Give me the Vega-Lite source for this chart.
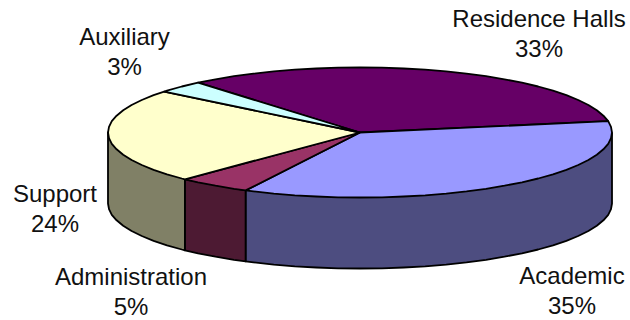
{"$schema":"https://vega.github.io/schema/vega-lite/v6.json","width":630,"height":320,"padding":0,"autosize":{"type":"fit","contains":"padding"},"background":"white","view":{"stroke":null},
"layer":[
{"data":{"values":[
{"slice":"Academic side","i":0,"x":612,"y":132.5},{"slice":"Academic side","i":1,"x":612,"y":203.5},{"slice":"Academic side","i":2,"x":611,"y":209.2},{"slice":"Academic side","i":3,"x":608.2,"y":214.8},{"slice":"Academic side","i":4,"x":603.4,"y":220.3},{"slice":"Academic side","i":5,"x":596.8,"y":225.7},{"slice":"Academic side","i":6,"x":588.4,"y":231},{"slice":"Academic side","i":7,"x":578.2,"y":236},{"slice":"Academic side","i":8,"x":566.4,"y":240.8},{"slice":"Academic side","i":9,"x":553,"y":245.3},{"slice":"Academic side","i":10,"x":538.2,"y":249.5},{"slice":"Academic side","i":11,"x":522,"y":253.3},{"slice":"Academic side","i":12,"x":504.5,"y":256.7},{"slice":"Academic side","i":13,"x":486,"y":259.8},{"slice":"Academic side","i":14,"x":466.5,"y":262.4},{"slice":"Academic side","i":15,"x":446.2,"y":264.6},{"slice":"Academic side","i":16,"x":425.2,"y":266.3},{"slice":"Academic side","i":17,"x":403.7,"y":267.5},{"slice":"Academic side","i":18,"x":382,"y":268.3},{"slice":"Academic side","i":19,"x":360,"y":268.5},{"slice":"Academic side","i":20,"x":338,"y":268.3},{"slice":"Academic side","i":21,"x":316.3,"y":267.5},{"slice":"Academic side","i":22,"x":294.8,"y":266.3},{"slice":"Academic side","i":23,"x":273.8,"y":264.6},{"slice":"Academic side","i":24,"x":253.5,"y":262.4},{"slice":"Academic side","i":25,"x":245.6,"y":261.4},{"slice":"Academic side","i":26,"x":245.6,"y":190.4},{"slice":"Academic side","i":27,"x":612,"y":132.5},
{"slice":"Administration side","i":0,"x":245.6,"y":190.4},{"slice":"Administration side","i":1,"x":245.6,"y":261.4},{"slice":"Administration side","i":2,"x":234,"y":259.8},{"slice":"Administration side","i":3,"x":215.5,"y":256.7},{"slice":"Administration side","i":4,"x":198,"y":253.3},{"slice":"Administration side","i":5,"x":184.9,"y":250.3},{"slice":"Administration side","i":6,"x":184.9,"y":179.3},{"slice":"Administration side","i":7,"x":245.6,"y":190.4},
{"slice":"Support side","i":0,"x":184.9,"y":179.3},{"slice":"Support side","i":1,"x":184.9,"y":250.3},{"slice":"Support side","i":2,"x":181.8,"y":249.5},{"slice":"Support side","i":3,"x":167,"y":245.3},{"slice":"Support side","i":4,"x":153.6,"y":240.8},{"slice":"Support side","i":5,"x":141.8,"y":236},{"slice":"Support side","i":6,"x":131.6,"y":231},{"slice":"Support side","i":7,"x":123.2,"y":225.7},{"slice":"Support side","i":8,"x":116.6,"y":220.3},{"slice":"Support side","i":9,"x":111.8,"y":214.8},{"slice":"Support side","i":10,"x":109,"y":209.2},{"slice":"Support side","i":11,"x":108,"y":203.5},{"slice":"Support side","i":12,"x":108,"y":132.5},{"slice":"Support side","i":13,"x":184.9,"y":179.3},
{"slice":"Residence Halls","i":0,"x":360,"y":132.5},{"slice":"Residence Halls","i":1,"x":198,"y":82.7},{"slice":"Residence Halls","i":2,"x":215.5,"y":79.3},{"slice":"Residence Halls","i":3,"x":234,"y":76.2},{"slice":"Residence Halls","i":4,"x":253.5,"y":73.6},{"slice":"Residence Halls","i":5,"x":273.8,"y":71.4},{"slice":"Residence Halls","i":6,"x":294.8,"y":69.7},{"slice":"Residence Halls","i":7,"x":316.3,"y":68.5},{"slice":"Residence Halls","i":8,"x":338,"y":67.7},{"slice":"Residence Halls","i":9,"x":360,"y":67.5},{"slice":"Residence Halls","i":10,"x":382,"y":67.7},{"slice":"Residence Halls","i":11,"x":403.7,"y":68.5},{"slice":"Residence Halls","i":12,"x":425.2,"y":69.7},{"slice":"Residence Halls","i":13,"x":446.2,"y":71.4},{"slice":"Residence Halls","i":14,"x":466.5,"y":73.6},{"slice":"Residence Halls","i":15,"x":486,"y":76.2},{"slice":"Residence Halls","i":16,"x":504.5,"y":79.3},{"slice":"Residence Halls","i":17,"x":522,"y":82.7},{"slice":"Residence Halls","i":18,"x":538.2,"y":86.5},{"slice":"Residence Halls","i":19,"x":553,"y":90.7},{"slice":"Residence Halls","i":20,"x":566.4,"y":95.2},{"slice":"Residence Halls","i":21,"x":578.2,"y":100},{"slice":"Residence Halls","i":22,"x":588.4,"y":105},{"slice":"Residence Halls","i":23,"x":596.8,"y":110.3},{"slice":"Residence Halls","i":24,"x":603.4,"y":115.7},{"slice":"Residence Halls","i":25,"x":608.2,"y":121.2},{"slice":"Residence Halls","i":26,"x":360,"y":132.5},
{"slice":"Academic","i":0,"x":360,"y":132.5},{"slice":"Academic","i":1,"x":608.2,"y":121.2},{"slice":"Academic","i":2,"x":611,"y":126.8},{"slice":"Academic","i":3,"x":612,"y":132.5},{"slice":"Academic","i":4,"x":611,"y":138.2},{"slice":"Academic","i":5,"x":608.2,"y":143.8},{"slice":"Academic","i":6,"x":603.4,"y":149.3},{"slice":"Academic","i":7,"x":596.8,"y":154.7},{"slice":"Academic","i":8,"x":588.4,"y":160},{"slice":"Academic","i":9,"x":578.2,"y":165},{"slice":"Academic","i":10,"x":566.4,"y":169.8},{"slice":"Academic","i":11,"x":553,"y":174.3},{"slice":"Academic","i":12,"x":538.2,"y":178.5},{"slice":"Academic","i":13,"x":522,"y":182.3},{"slice":"Academic","i":14,"x":504.5,"y":185.7},{"slice":"Academic","i":15,"x":486,"y":188.8},{"slice":"Academic","i":16,"x":466.5,"y":191.4},{"slice":"Academic","i":17,"x":446.2,"y":193.6},{"slice":"Academic","i":18,"x":425.2,"y":195.3},{"slice":"Academic","i":19,"x":403.7,"y":196.5},{"slice":"Academic","i":20,"x":382,"y":197.3},{"slice":"Academic","i":21,"x":360,"y":197.5},{"slice":"Academic","i":22,"x":338,"y":197.3},{"slice":"Academic","i":23,"x":316.3,"y":196.5},{"slice":"Academic","i":24,"x":294.8,"y":195.3},{"slice":"Academic","i":25,"x":273.8,"y":193.6},{"slice":"Academic","i":26,"x":253.5,"y":191.4},{"slice":"Academic","i":27,"x":245.6,"y":190.4},{"slice":"Academic","i":28,"x":360,"y":132.5},
{"slice":"Administration","i":0,"x":360,"y":132.5},{"slice":"Administration","i":1,"x":245.6,"y":190.4},{"slice":"Administration","i":2,"x":234,"y":188.8},{"slice":"Administration","i":3,"x":215.5,"y":185.7},{"slice":"Administration","i":4,"x":198,"y":182.3},{"slice":"Administration","i":5,"x":184.9,"y":179.3},{"slice":"Administration","i":6,"x":360,"y":132.5},
{"slice":"Support","i":0,"x":360,"y":132.5},{"slice":"Support","i":1,"x":184.9,"y":179.3},{"slice":"Support","i":2,"x":181.8,"y":178.5},{"slice":"Support","i":3,"x":167,"y":174.3},{"slice":"Support","i":4,"x":153.6,"y":169.8},{"slice":"Support","i":5,"x":141.8,"y":165},{"slice":"Support","i":6,"x":131.6,"y":160},{"slice":"Support","i":7,"x":123.2,"y":154.7},{"slice":"Support","i":8,"x":116.6,"y":149.3},{"slice":"Support","i":9,"x":111.8,"y":143.8},{"slice":"Support","i":10,"x":109,"y":138.2},{"slice":"Support","i":11,"x":108,"y":132.5},{"slice":"Support","i":12,"x":109,"y":126.8},{"slice":"Support","i":13,"x":111.8,"y":121.2},{"slice":"Support","i":14,"x":116.6,"y":115.7},{"slice":"Support","i":15,"x":123.2,"y":110.3},{"slice":"Support","i":16,"x":131.6,"y":105},{"slice":"Support","i":17,"x":141.8,"y":100},{"slice":"Support","i":18,"x":153.6,"y":95.2},{"slice":"Support","i":19,"x":164.2,"y":91.6},{"slice":"Support","i":20,"x":360,"y":132.5},
{"slice":"Auxiliary","i":0,"x":360,"y":132.5},{"slice":"Auxiliary","i":1,"x":164.2,"y":91.6},{"slice":"Auxiliary","i":2,"x":167,"y":90.7},{"slice":"Auxiliary","i":3,"x":181.8,"y":86.5},{"slice":"Auxiliary","i":4,"x":198,"y":82.7},{"slice":"Auxiliary","i":5,"x":360,"y":132.5}
]},
"mark":{"type":"line","stroke":"black","strokeWidth":1.8,"strokeJoin":"round","clip":false},
"encoding":{
"x":{"field":"x","type":"quantitative","scale":{"domain":[0,630]},"axis":null},
"y":{"field":"y","type":"quantitative","scale":{"domain":[320,0]},"axis":null},
"order":{"field":"i","type":"quantitative"},
"detail":{"field":"slice","type":"nominal"},
"fill":{"field":"slice","type":"nominal","legend":null,"scale":{"domain":["Residence Halls","Academic","Administration","Support","Auxiliary","Academic side","Administration side","Support side"],"range":["#660066","#9999FF","#993366","#FFFFCC","#CCFFFF","#4D4D80","#4D1A33","#808066"]}}
}},
{"data":{"values":[
{"label":"Residence Halls","x":539,"y":27},{"label":"33%","x":539,"y":57},
{"label":"Auxiliary","x":124.5,"y":45},{"label":"3%","x":124.5,"y":75},
{"label":"Support","x":55,"y":202},{"label":"24%","x":55,"y":232},
{"label":"Administration","x":131,"y":285},{"label":"5%","x":131,"y":315},
{"label":"Academic","x":572,"y":283.5},{"label":"35%","x":572,"y":313.5}
]},
"mark":{"type":"text","font":"Liberation Sans","fontSize":24,"color":"#111111","align":"center","baseline":"alphabetic"},
"encoding":{
"x":{"field":"x","type":"quantitative","scale":{"domain":[0,630]},"axis":null},
"y":{"field":"y","type":"quantitative","scale":{"domain":[320,0]},"axis":null},
"text":{"field":"label","type":"nominal"}
}}
]}
